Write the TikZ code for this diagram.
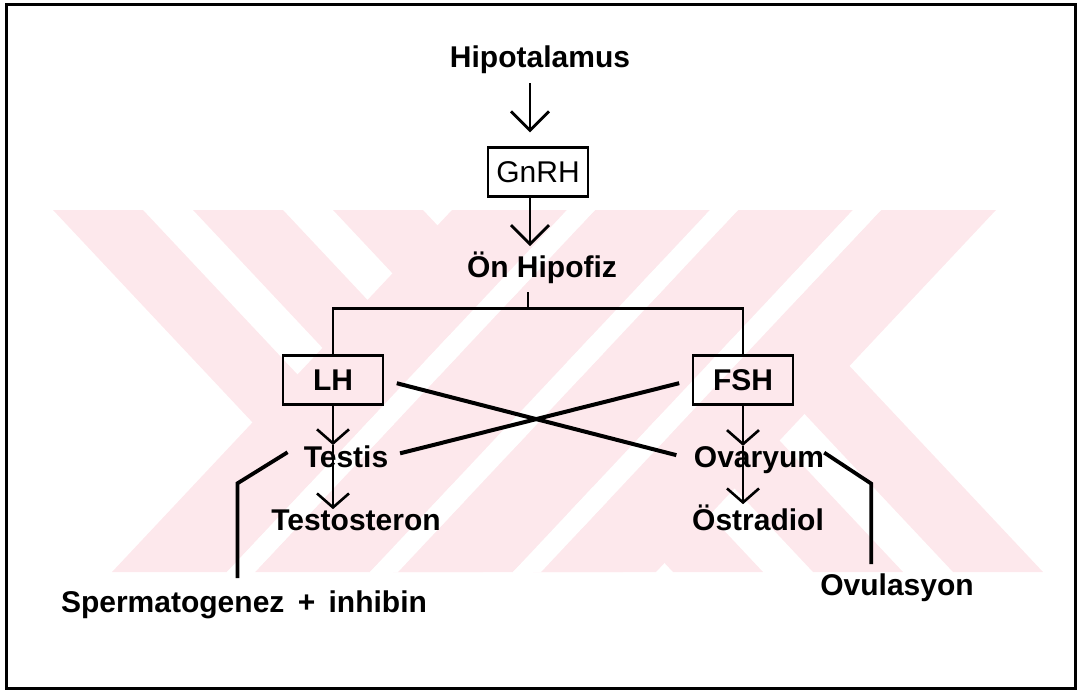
\documentclass[tikz,border=0pt]{standalone}
\usepackage{fontspec}
\setmainfont{Liberation Sans}
\usetikzlibrary{arrows.meta}
\definecolor{wmpink}{RGB}{253,232,236}

\begin{document}
\begin{tikzpicture}[x=1pt, y=-1pt,
  gland/.style={inner sep=0pt, anchor=base, font=\fontsize{30}{36}\selectfont\bfseries},
  hormone/.style={draw, line width=2.4pt, inner sep=0pt, minimum width=100pt, minimum height=49pt,
                  font=\fontsize{30}{36}\selectfont\bfseries},
  flow/.style={-{Straight Barb[length=19pt,width=38pt]}, line width=2.8pt},
  effect/.style={-{Straight Barb[length=14pt,width=32pt]}, line width=2.6pt},
  branch/.style={line width=2.5pt},
  crossing/.style={line width=4pt},
  outcome/.style={line width=3.8pt},
]
\useasboundingbox (0,0) rectangle (1080,693);

% faint watermark behind the chart
\foreach \k in {0,...,4}
  \fill[wmpink] ({53+140*\k},210) -- ++(90,0) -- ++(340,362) -- ++(-90,0) -- cycle;
\foreach \k in {0,...,3}
  \fill[wmpink] ({112+143*\k},572) -- ++(115,0) -- ++(340,-362) -- ++(-115,0) -- cycle;
\foreach \k in {0,...,2}
  \fill[white] ({227+143*\k},572) -- ++(28,0) -- ++(340,-362) -- ++(-28,0) -- cycle;

\draw[line width=3pt] (6,5) rectangle (1075,688);

\node[gland] (hipo) at (540,68) {Hipotalamus};
\node[hormone, font=\fontsize{30}{36}\selectfont] (gnrh) at (538,172) {GnRH};
\node[gland] (onh) at (542,277) {Ön Hipofiz};
\node[hormone] (lh) at (333,380) {LH};
\node[hormone] (fsh) at (743,380) {FSH};
\node[gland] (testis) at (346,467) {Testis};
\node[gland] (testost) at (356,530) {Testosteron};
\node[gland] (ovar) at (759,467) {Ovaryum};
\node[gland] (ostr) at (758,530) {Östradiol};
\node[gland] (spermat) at (244,612) {Spermatogenez \,+\, inhibin};
\node[gland] (ovul) at (897,595) {Ovulasyon};

\draw[flow] ([shift={(-10,9)}]hipo.south) -- ([shift={(-8,-14)}]gnrh.north);
\draw[flow] ([xshift=-8pt]gnrh.south) -- ([shift={(-12,-5)}]onh.north);
\draw[branch] ([shift={(-14,9)}]onh.south) -- ++(0,16) coordinate (split);
\draw[branch] (lh.north) |- (split) -| (fsh.north);

\draw[effect] (lh.south) -- (lh.south |- testis.north);
\draw[effect] (lh.south |- testis.north) -- (lh.south |- testost.north);
\draw[effect] (fsh.south) -- (fsh.south |- ovar.north);
\draw[effect] (fsh.south |- ovar.north) -- (fsh.south |- ostr.north);

\draw[crossing, shorten <=13pt, shorten >=18pt] (lh.east) -- (ovar.west);
\draw[crossing, shorten <=13pt, shorten >=12pt] (fsh.west) -- (testis.east);

\draw[outcome, shorten >=12pt] ([shift={(-16,-4)}]testis.west) -- ++(-50,31) coordinate (sbend)
  -- (sbend |- spermat.north);
\draw[outcome, shorten >=9pt] ([shift={(0,-7)}]ovar.east) -- ++(47,31) coordinate (obend)
  -- (obend |- ovul.north);

\end{tikzpicture}
\end{document}
